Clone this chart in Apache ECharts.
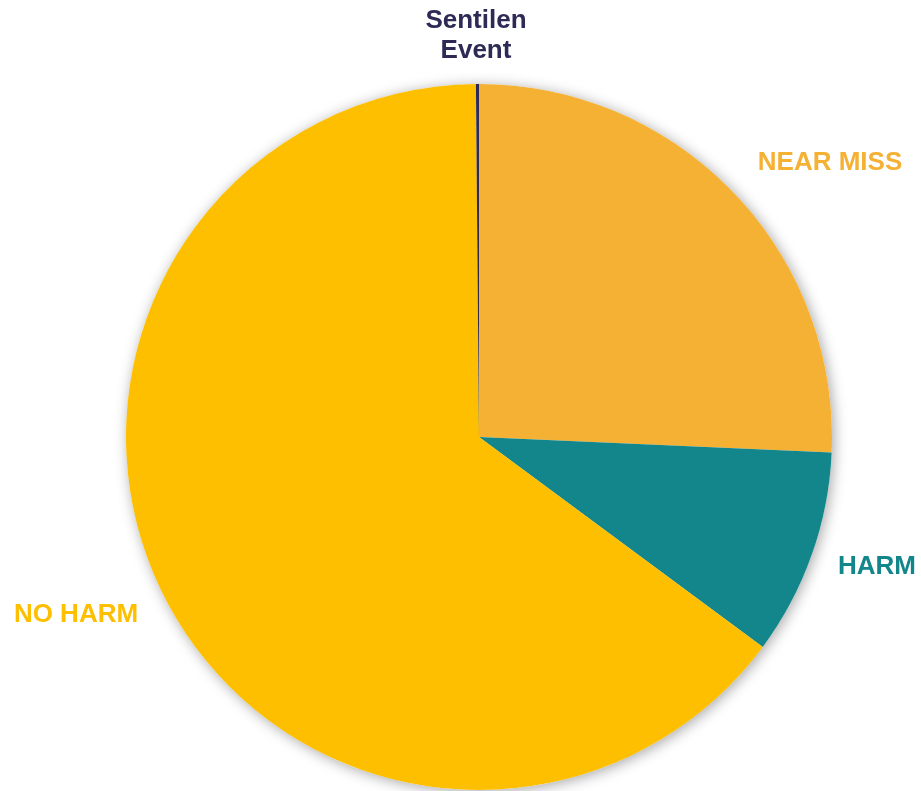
<!DOCTYPE html>
<html>
<head>
<meta charset="utf-8">
<script src="https://cdn.jsdelivr.net/npm/echarts@6/dist/echarts.min.js"></script>
<style>
  html, body { margin: 0; padding: 0; background: #fff; }
  #chart { width: 921px; height: 791px; }
</style>
</head>
<body>
<div id="chart"></div>
<script>
// slice order follows the chart, clockwise from 12 o'clock
const categories = ["NEAR MISS", "HARM", "NO HARM", "Sentilen\nEvent"];
const counts = [185, 68, 466, 1];
const colors = ["#F5B133", "#13868C", "#FDBF00", "#2E2A56"];

// where each label sits (px)
const labelPos = [
  [830, 163],
  [877, 567],
  [76, 615],
  [476, 36]
];

const chart = echarts.init(document.getElementById("chart"));

const option = {
  animation: false,
  series: [
    {
      // soft shadow behind the pie
      type: "pie",
      silent: true,
      center: [479, 437],
      radius: 353,
      label: { show: false },
      labelLine: { show: false },
      itemStyle: {
        color: "#fff",
        shadowBlur: 14,
        shadowColor: "rgba(0,0,0,0.35)",
        shadowOffsetX: 2,
        shadowOffsetY: 2
      },
      data: [{ value: 1 }]
    },
    {
      type: "pie",
      center: [479, 437],
      radius: 353,
      startAngle: 90,
      clockwise: true,
      avoidLabelOverlap: false,
      labelLine: { show: false },
      label: {
        show: true,
        formatter: "{b}",
        fontFamily: "Liberation Sans, Arial, sans-serif",
        fontWeight: "bold",
        fontSize: 26,
        lineHeight: 30,
        align: "center"
      },
      labelLayout: function (params) {
        const p = labelPos[params.dataIndex];
        return { x: p[0], y: p[1], align: "center", verticalAlign: "middle" };
      },
      data: categories.map((name, i) => ({
        name: name,
        value: counts[i],
        itemStyle: { color: colors[i] },
        label: { color: colors[i] }
      }))
    }
  ]
};

chart.setOption(option);
</script>
</body>
</html>
